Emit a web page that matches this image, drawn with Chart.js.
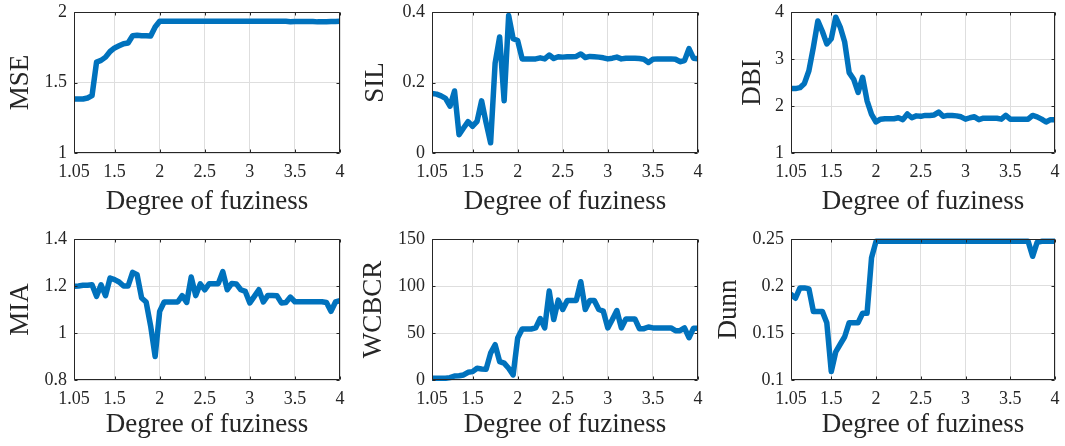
<!DOCTYPE html>
<html>
<head>
<meta charset="utf-8">
<script src="https://cdn.jsdelivr.net/npm/chart.js@4.4.1/dist/chart.umd.min.js"></script>
<style>
  html, body { margin: 0; padding: 0; background: #fff; }
  #wrap { position: relative; width: 1065px; height: 446px; overflow: hidden; }
  .cell { position: absolute; }
</style>
</head>
<body>
<div id="wrap"></div>
<script>
// degree of fuzziness m, swept in steps of 0.05
const fuzziness = [1.05, 1.1, 1.15, 1.2, 1.25, 1.3, 1.35, 1.4, 1.45, 1.5,
  1.55, 1.6, 1.65, 1.7, 1.75, 1.8, 1.85, 1.9, 1.95, 2,
  2.05, 2.1, 2.15, 2.2, 2.25, 2.3, 2.35, 2.4, 2.45, 2.5,
  2.55, 2.6, 2.65, 2.7, 2.75, 2.8, 2.85, 2.9, 2.95, 3,
  3.05, 3.1, 3.15, 3.2, 3.25, 3.3, 3.35, 3.4, 3.45, 3.5,
  3.55, 3.6, 3.65, 3.7, 3.75, 3.8, 3.85, 3.9, 3.95, 4];

const mse = [1.383, 1.383, 1.383, 1.39, 1.407, 1.645, 1.657, 1.68, 1.72, 1.745,
  1.76, 1.775, 1.78, 1.832, 1.835, 1.832, 1.832, 1.83, 1.894, 1.934,
  1.935, 1.935, 1.935, 1.935, 1.935, 1.935, 1.935, 1.935, 1.935, 1.935,
  1.935, 1.935, 1.935, 1.935, 1.935, 1.935, 1.935, 1.935, 1.935, 1.934,
  1.934, 1.934, 1.934, 1.934, 1.934, 1.934, 1.934, 1.934, 1.931, 1.933,
  1.933, 1.933, 1.933, 1.932, 1.93, 1.93, 1.931, 1.933, 1.933, 1.934];

const sil = [0.169, 0.167, 0.162, 0.155, 0.133, 0.176, 0.052, 0.071, 0.089, 0.076,
  0.09, 0.148, 0.086, 0.029, 0.255, 0.329, 0.148, 0.39, 0.324, 0.319,
  0.267, 0.267, 0.267, 0.267, 0.27, 0.267, 0.278, 0.268, 0.273, 0.272,
  0.273, 0.273, 0.274, 0.281, 0.271, 0.274, 0.273, 0.272, 0.27, 0.267,
  0.269, 0.272, 0.267, 0.269, 0.269, 0.269, 0.268, 0.266, 0.257, 0.266,
  0.267, 0.267, 0.267, 0.267, 0.266, 0.259, 0.262, 0.296, 0.269, 0.267];

const dbi = [2.37, 2.37, 2.39, 2.48, 2.75, 3.25, 3.81, 3.59, 3.32, 3.43,
  3.89, 3.68, 3.36, 2.71, 2.57, 2.29, 2.61, 2.11, 1.82, 1.66,
  1.72, 1.73, 1.73, 1.73, 1.75, 1.71, 1.83, 1.75, 1.79, 1.78,
  1.8, 1.8, 1.81, 1.87, 1.78, 1.8, 1.8, 1.79, 1.77, 1.72,
  1.75, 1.77, 1.71, 1.74, 1.74, 1.74, 1.74, 1.72, 1.8, 1.72,
  1.72, 1.72, 1.72, 1.72, 1.8, 1.77, 1.72, 1.66, 1.71, 1.71];

const mia = [1.199, 1.2, 1.203, 1.203, 1.205, 1.156, 1.205, 1.159, 1.234, 1.227,
  1.217, 1.2, 1.2, 1.258, 1.248, 1.149, 1.132, 1.03, 0.9, 1.092,
  1.132, 1.132, 1.132, 1.132, 1.159, 1.13, 1.238, 1.159, 1.209, 1.184,
  1.21, 1.21, 1.21, 1.261, 1.184, 1.211, 1.209, 1.184, 1.177, 1.128,
  1.156, 1.184, 1.132, 1.16, 1.16, 1.159, 1.128, 1.13, 1.153, 1.133,
  1.133, 1.133, 1.133, 1.133, 1.133, 1.133, 1.13, 1.092, 1.132, 1.138];

const wcbcr = [1.8, 1.8, 1.8, 1.8, 2.5, 4.3, 4.6, 5.4, 8.2, 8.9,
  12.5, 11.8, 11.4, 28.6, 37.5, 19.6, 17.9, 12.5, 5.4, 44.6,
  54.3, 54.3, 54.3, 55.4, 65.4, 55.4, 94.6, 64.3, 85, 75,
  84.6, 84.6, 84.6, 104.6, 75, 84.6, 84.6, 75, 73.2, 55.4,
  64.3, 73.9, 55.4, 65, 65, 65, 54.6, 54.6, 56.4, 55.4,
  55.4, 55.4, 55.4, 55.4, 52.5, 52.5, 55.4, 45, 55, 55];

const dunn = [0.191, 0.187, 0.198, 0.198, 0.197, 0.173, 0.173, 0.173, 0.161, 0.109,
  0.13, 0.138, 0.146, 0.161, 0.161, 0.161, 0.171, 0.171, 0.23, 0.2475,
  0.2475, 0.2475, 0.2475, 0.2475, 0.2475, 0.2475, 0.2475, 0.2475, 0.2475, 0.2475,
  0.2475, 0.2475, 0.2475, 0.2475, 0.2475, 0.2475, 0.2475, 0.2475, 0.2475, 0.2475,
  0.2475, 0.2475, 0.2475, 0.2475, 0.2475, 0.2475, 0.2475, 0.2475, 0.2475, 0.2475,
  0.2475, 0.2475, 0.2475, 0.2475, 0.2316, 0.2465, 0.2475, 0.2475, 0.2475, 0.2475];

const xTicks = [1.05, 1.5, 2, 2.5, 3, 3.5, 4];

const panels = [
  { name: 'MSE',   values: mse,   min: 1,   max: 2,    ticks: [1, 1.5, 2],            col: 0, row: 0, axisW: 74, titlePad: 4.5 },
  { name: 'SIL',   values: sil,   min: 0,   max: 0.4,  ticks: [0, 0.2, 0.4],          col: 1, row: 0, axisW: 77, titlePad: 4.5 },
  { name: 'DBI',   values: dbi,   min: 1,   max: 4,    ticks: [1, 2, 3, 4],           col: 2, row: 0, axisW: 81, titlePad: 27 },
  { name: 'MIA',   values: mia,   min: 0.8, max: 1.4,  ticks: [0.8, 1, 1.2, 1.4],     col: 0, row: 1, axisW: 74, titlePad: 4.5 },
  { name: 'WCBCR', values: wcbcr, min: 0,   max: 150,  ticks: [0, 50, 100, 150],      col: 1, row: 1, axisW: 77, titlePad: 3 },
  { name: 'Dunn',  values: dunn,  min: 0.1, max: 0.25, ticks: [0.1, 0.15, 0.2, 0.25], col: 2, row: 1, axisW: 81, titlePad: 3 }
];

const CELL_W = [355, 355, 355];
const CELL_H = [223, 223];
const PLOT_RIGHT = [340, 343, 1055 - 710];
const PLOT_TOP = [12, 16];
const XAXIS_H = [70, 66];

const FONT = "'Liberation Serif', 'Times New Roman', serif";
const INK = '#262626';
const fmt = v => String(+(+v).toFixed(4));

// MATLAB-style box with inward tick marks on all four sides
const axesBox = {
  id: 'axesBox',
  afterDatasetsDraw(chart) {
    const { ctx, chartArea: a, scales: { x, y } } = chart;
    const L = Math.round(a.left) + 0.5, R = Math.round(a.right) - 0.5;
    const T = Math.round(a.top) + 0.5, B = Math.round(a.bottom) - 0.5;
    const len = 3;
    ctx.save();
    ctx.strokeStyle = INK;
    ctx.lineWidth = 1;
    ctx.beginPath();
    ctx.rect(L, T, R - L, B - T);
    x.ticks.forEach(t => {
      const px = Math.round(x.getPixelForValue(t.value)) + 0.5;
      ctx.moveTo(px, B); ctx.lineTo(px, B - len);
      ctx.moveTo(px, T); ctx.lineTo(px, T + len);
    });
    y.ticks.forEach(t => {
      const py = Math.round(y.getPixelForValue(t.value)) + 0.5;
      ctx.moveTo(L, py); ctx.lineTo(L + len, py);
      ctx.moveTo(R, py); ctx.lineTo(R - len, py);
    });
    ctx.stroke();
    ctx.restore();
  }
};

const wrap = document.getElementById('wrap');

panels.forEach(p => {
  const left = p.col * 355, top = p.row * 223;
  const w = CELL_W[p.col], h = CELL_H[p.row];
  const canvas = document.createElement('canvas');
  canvas.className = 'cell';
  canvas.width = w; canvas.height = h;
  canvas.style.left = left + 'px';
  canvas.style.top = top + 'px';
  canvas.style.width = w + 'px';
  canvas.style.height = h + 'px';
  wrap.appendChild(canvas);

  const padR = w - (PLOT_RIGHT[p.col] - (p.col === 2 ? 0 : 0));

  new Chart(canvas, {
    type: 'line',
    data: {
      datasets: [{
        data: fuzziness.map((f, i) => ({ x: f, y: p.values[i] })),
        borderColor: '#0072BD',
        borderWidth: 5.5,
        borderJoinStyle: 'round',
        borderCapStyle: 'round',
        pointRadius: 0,
        tension: 0,
        fill: false,
        clip: { left: 0, right: 0, top: 3, bottom: 3 }
      }]
    },
    plugins: [axesBox],
    options: {
      responsive: false,
      devicePixelRatio: 1,
      animation: false,
      events: [],
      layout: { padding: { left: 0, top: PLOT_TOP[p.row], right: w - PLOT_RIGHT[p.col], bottom: 0 } },
      plugins: { legend: { display: false }, tooltip: { enabled: false } },
      scales: {
        x: {
          type: 'linear',
          min: 1.05,
          max: 4,
          afterBuildTicks: s => { s.ticks = xTicks.map(v => ({ value: v })); },
          afterFit: s => { s.height = XAXIS_H[p.row]; s.paddingLeft = 0; s.paddingRight = 0; },
          grid: { color: '#dedede', lineWidth: 1, drawTicks: false },
          border: { display: false },
          ticks: {
            padding: 8,
            maxRotation: 0,
            autoSkip: false,
            color: INK,
            font: { family: FONT, size: 18 },
            callback: v => fmt(v)
          },
          title: {
            display: true,
            text: 'Degree of fuziness',
            color: INK,
            font: { family: FONT, size: 27 },
            padding: { top: 0, bottom: 5 }
          }
        },
        y: {
          min: p.min,
          max: p.max,
          afterBuildTicks: s => { s.ticks = p.ticks.map(v => ({ value: v })); },
          afterFit: s => { s.width = p.axisW; s.paddingTop = 0; s.paddingBottom = 0; },
          grid: { color: '#dedede', lineWidth: 1, drawTicks: false },
          border: { display: false },
          ticks: {
            padding: 7,
            autoSkip: false,
            color: INK,
            font: { family: FONT, size: 18 },
            callback: v => fmt(v)
          },
          title: {
            display: true,
            text: p.name,
            color: INK,
            font: { family: FONT, size: 27 },
            padding: { top: p.titlePad, bottom: 0 }
          }
        }
      }
    }
  });
});
</script>
</body>
</html>
